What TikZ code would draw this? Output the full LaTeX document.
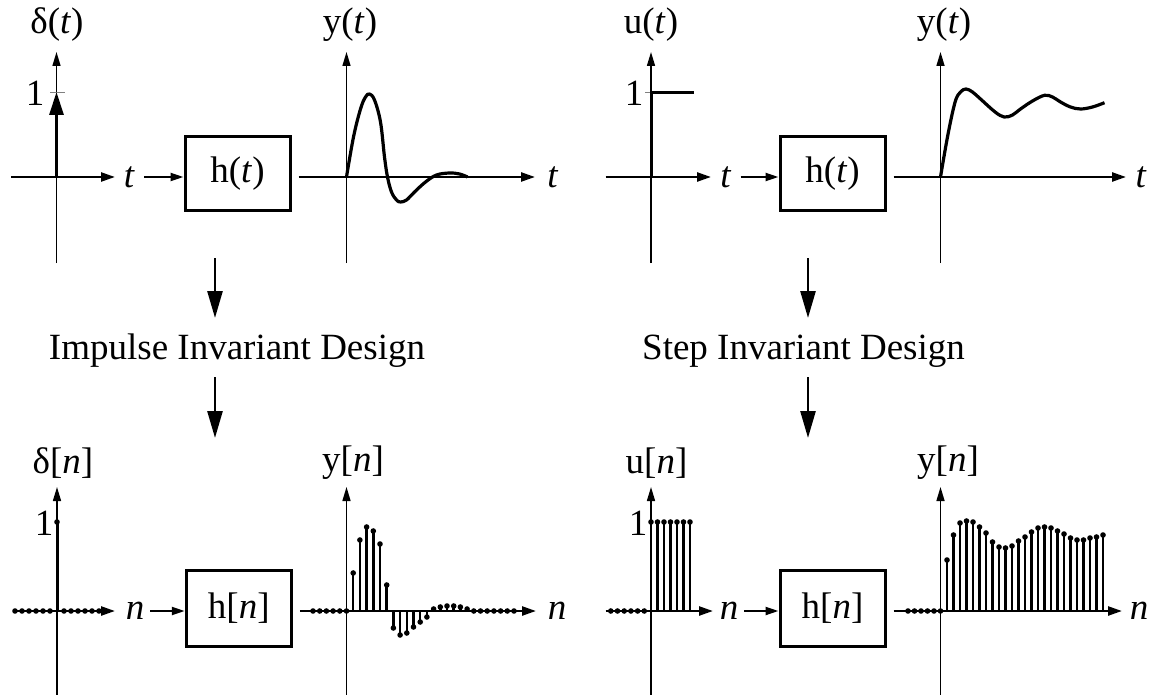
\documentclass[tikz,border=0pt]{standalone}
\usepackage{fontspec}
\setmainfont{Liberation Serif}
\usetikzlibrary{arrows.meta, positioning, calc}
\tikzset{
	sysbox/.style={
			draw=black,
			line width=3pt,
			minimum width=105pt,
			minimum height=74pt,
			inner sep=0pt,
			font=\fontsize{37}{40}\selectfont
		},
	siglabel/.style={
			inner sep=0pt,
			font=\fontsize{37}{40}\selectfont
		},
	vaxis/.style={
			line width=1.5pt,
			-{Triangle[length=14pt,width=8pt]}
		},
	haxis/.style={
			line width=2.4pt,
			-{Triangle[length=14pt,width=9pt]}
		},
	sigarrow/.style={
			line width=2.2pt,
			-{Triangle[length=13pt,width=8pt]}
		},
	flowarrow/.style={
			line width=2.6pt,
			-{Triangle[length=27pt,width=15pt]}
		},
	response/.style={
			line width=3.2pt,
			line join=round
		},
	stemline/.style={
			line width=2.5pt
		},
	sampledot/.style={
			fill=black
		},
	unitmark/.style={
			draw=gray,
			line width=1pt
		}
}

\begin{document}
\begin{tikzpicture}[x=1pt, y=-1pt]
\useasboundingbox[fill=white] (0,0) rectangle (1151,695);

% impulse, continuous
\coordinate (o1) at (56.5,177);
\coordinate (o2) at (346.5,177);
\node[siglabel] (lab1) at (57,25) {δ(\textit{t})};
\node[siglabel] (lab2) at (350,25) {y(\textit{t})};
\draw[vaxis] (56.5,263) -- (56.5,52);
\draw[haxis] (11,177) -- (115,177);
\draw[unitmark] (50,93) -- (65,93);
\node[siglabel] (one1) at (35,93) {1};
\draw[line width=3pt, -{Triangle[length=23pt,width=14pt]}] (o1) -- (56.5,92);
\node[siglabel] (t1) at (129.5,177) {\textit{t}};
\node[sysbox] (box1) at (237.5,173.5) {h(\textit{t})};
\draw[sigarrow, shorten <=9pt] (t1) -- (t1 -| box1.west);
\draw[vaxis] (346.5,263) -- (346.5,52);
\draw[haxis, shorten <=7pt] (box1.east |- o2) -- (535,177);
\node[siglabel] (t2) at (553,177) {\textit{t}};
\begin{scope}[shift={(o2)}, yscale=-1]
\draw[response] plot[smooth, tension=0.6] coordinates {(0,0) (7,40) (14,68) (19,80) (23,83) (28,77) (34,55) (38,20) (41,0) (45,-15) (50,-23) (54,-25) (60,-23) (68,-15) (79,-5) (90,2) (103,4) (113,3) (121,0)};
\end{scope}

% impulse, discrete
\coordinate (o3) at (57,611);
\coordinate (o4) at (346.5,611);
\node[siglabel] (lab3) at (63,463) {δ[\textit{n}]};
\node[siglabel] (lab4) at (353,463) {y[\textit{n}]};
\draw[vaxis] (57,695) -- (57,487);
\draw[haxis] (13,611) -- (115,611);
\node[siglabel] (one3) at (44,523) {1};
\begin{scope}[shift={(o3)}, yscale=-1]
\foreach \k in {-6,-5,-4,-3,-2,-1,1,2,3,4,5,6} {
	\fill[sampledot] (\k*7,0) circle (2.8);
}
\draw[stemline, line width=3pt] (0,0) -- (0,89);
\fill[sampledot] (0,89) circle (2.8);
\end{scope}
\node[siglabel] (n1) at (135,611) {\textit{n}};
\node[sysbox, minimum height=76pt] (box2) at (238.75,608) {h[\textit{n}]};
\draw[sigarrow, shorten <=6pt] (n1) -- (n1 -| box2.west);
\draw[vaxis] (346.5,695) -- (346.5,487);
\draw[haxis, shorten <=7pt] (box2.east |- o4) -- (536,611);
\node[siglabel] (n2) at (557,611) {\textit{n}};
\begin{scope}[shift={(o4)}, yscale=-1]
\foreach \k/\v in {-5/0,-4/0,-3/0,-2/0,-1/0,0/0,1/38,2/71,3/84,4/80,5/67,6/26,7/-17,8/-24,9/-22,10/-16,11/-11,12/-6,13/2,14/4,15/5,16/5,17/4,18/2,19/0,20/0,21/0,22/0,23/0,24/0,25/0} {
	\draw[stemline] (\k*6.7,0) -- (\k*6.7,\v);
	\fill[sampledot] (\k*6.7,\v) circle (2.8);
}
\end{scope}

% step, continuous
\coordinate (o5) at (651,177);
\coordinate (o6) at (940.5,177);
\node[siglabel] (lab5) at (651,25) {u(\textit{t})};
\node[siglabel] (lab6) at (944,25) {y(\textit{t})};
\draw[vaxis] (651,263) -- (651,52);
\draw[haxis] (605.5,177) -- (711,177);
\draw[unitmark] (645,93) -- (657,93);
\node[siglabel] (one5) at (634,93) {1};
\draw[line width=3pt] (o5) -- (651,93) -- (694,93);
\node[siglabel] (t5) at (726,177) {\textit{t}};
\node[sysbox] (box3) at (832.5,173.5) {h(\textit{t})};
\draw[sigarrow, shorten <=9pt] (t5) -- (t5 -| box3.west);
\draw[vaxis] (940.5,263) -- (940.5,52);
\draw[haxis, shorten <=7pt] (box3.east |- o6) -- (1126,177);
\node[siglabel] (t6) at (1141,177) {\textit{t}};
\begin{scope}[shift={(o6)}, yscale=-1]
\draw[response] plot[smooth, tension=0.6] coordinates {(0,0) (7.3,41.7) (14.6,75) (20,85) (25.5,88) (32,85) (40,78) (54.6,65) (63.7,60) (72,62) (80,68) (92,76) (104,81.7) (112,80) (120,75) (130,70) (140,68) (152,70) (164,74.3)};
\end{scope}

% step, discrete
\coordinate (o7) at (651,611);
\coordinate (o8) at (940.5,611);
\node[siglabel] (lab7) at (656.5,463) {u[\textit{n}]};
\node[siglabel] (lab8) at (948,463) {y[\textit{n}]};
\draw[vaxis] (651,695) -- (651,487);
\draw[haxis] (605.5,611) -- (713,611);
\node[siglabel] (one7) at (638,523) {1};
\begin{scope}[shift={(o7)}, yscale=-1]
\foreach \k in {-6,-5,-4,-3,-2,-1} {
	\fill[sampledot] (\k*6.7,0) circle (2.8);
}
\foreach \k in {0,...,6} {
	\draw[stemline] (\k*6.5,0) -- (\k*6.5,89);
	\fill[sampledot] (\k*6.5,89) circle (2.8);
}
\end{scope}
\node[siglabel] (n7) at (729,611) {\textit{n}};
\node[sysbox, minimum height=76pt] (box4) at (832.5,608) {h[\textit{n}]};
\draw[sigarrow, shorten <=6pt] (n7) -- (n7 -| box4.west);
\draw[vaxis] (940.5,695) -- (940.5,487);
\draw[haxis, shorten <=7pt] (box4.east |- o8) -- (1122,611);
\node[siglabel] (n8) at (1139,611) {\textit{n}};
\begin{scope}[shift={(o8)}, yscale=-1]
\foreach \k/\v in {-5/0,-4/0,-3/0,-2/0,-1/0,0/0,1/51,2/76,3/88,4/90,5/89,6/84,7/78,8/69,9/64,10/63,11/65,12/70,13/74,14/79,15/83,16/84,17/83,18/80,19/77,20/73,21/71,22/71,23/73,24/74,25/76} {
	\draw[stemline] (\k*6.5,0) -- (\k*6.5,\v);
	\fill[sampledot] (\k*6.5,\v) circle (2.8);
}
\end{scope}

% design steps
\node[siglabel, anchor=base] (imp) at (237,359) {Impulse Invariant Design};
\node[siglabel, anchor=base] (stp) at (803.5,359) {Step Invariant Design};
\coordinate (fa1) at (215,258);
\coordinate (fa2) at (215,318);
\coordinate (fa3) at (215,377);
\coordinate (fa4) at (215,438);
\coordinate (fb1) at (808,258);
\coordinate (fb2) at (808,318);
\coordinate (fb3) at (808,377);
\coordinate (fb4) at (808,438);
\draw[flowarrow] (fa1) -- (fa2);
\draw[flowarrow] (fa3) -- (fa4);
\draw[flowarrow] (fb1) -- (fb2);
\draw[flowarrow] (fb3) -- (fb4);

\end{tikzpicture}
\end{document}
